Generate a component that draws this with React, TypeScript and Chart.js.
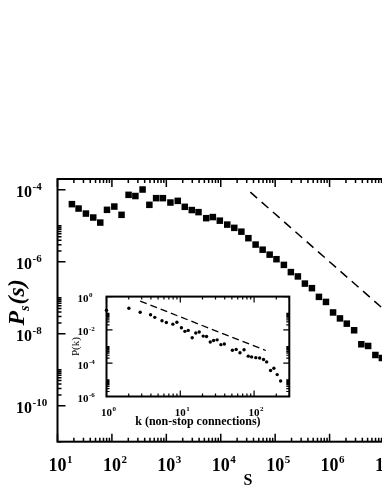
import React, { useEffect, useRef } from 'react';
import { Chart, registerables } from 'chart.js';

Chart.register(...registerables);

const FONT = "'Liberation Serif', 'Times New Roman', serif";

// ---- main plot: P_s(s) versus s ----
const sizeS = [18.4, 24.4, 33.3, 45.4, 61.1, 81.2, 110.7, 150.3, 202.4, 270, 366, 488, 649, 865, 1189, 1621, 2183, 2938, 3902, 5408, 7161, 9616, 13180, 17740, 23950, 32220, 43740, 58880, 79250, 105700, 144600, 194500, 261600, 352100, 474000, 637900, 858500, 1159000, 1552000, 2073000, 2827000, 3835000, 5117000, 6948000, 9141000];
const probPs = [4.0e-5, 3.02e-5, 2.19e-5, 1.7e-5, 1.23e-5, 2.78e-5, 3.43e-5, 2.02e-5, 7.26e-5, 6.73e-5, 1.02e-4, 3.83e-5, 5.87e-5, 5.87e-5, 4.44e-5, 4.94e-5, 3.37e-5, 2.74e-5, 2.4e-5, 1.63e-5, 1.75e-5, 1.39e-5, 1.08e-5, 8.77e-6, 6.87e-6, 4.53e-6, 3.01e-6, 2.17e-6, 1.58e-6, 1.18e-6, 8.2e-7, 5.17e-7, 3.92e-7, 2.48e-7, 1.85e-7, 1.06e-7, 7.67e-8, 3.91e-8, 2.67e-8, 1.91e-8, 1.25e-8, 5.1e-9, 4.58e-9, 2.57e-9, 2.12e-9];
const mainFitS = [3.5e4, 1e7];
const mainFitP = [8.6e-5, 4.7e-8];
const mainXRange = [10, 1e8];
const mainYRange = [1e-11, 2e-4];
const mainXLabels = [1e1, 1e2, 1e3, 1e4, 1e5, 1e6, 1e7];
const mainYLabels = [1e-10, 1e-8, 1e-6, 1e-4];

// ---- inset: P(k) versus k ----
const degreeK = [1, 2.01, 2.86, 3.95, 4.51, 5.65, 6.47, 7.93, 8.99, 10.35, 11.55, 12.81, 14.49, 16.21, 18.04, 20.45, 22.69, 25.47, 28.25, 31.53, 35.5, 39.52, 50.8, 57.2, 64.4, 73.1, 83.4, 92.5, 105.5, 118.9, 134.3, 148, 167.2, 185.4, 205.6, 228.9];
const probPk = [0.151, 0.199, 0.116, 0.0809, 0.0566, 0.0352, 0.0281, 0.0221, 0.0288, 0.0136, 8.2e-3, 9.36e-3, 3.38e-3, 6.55e-3, 7.48e-3, 4.23e-3, 4.01e-3, 1.86e-3, 2.33e-3, 2.52e-3, 1.3e-3, 1.43e-3, 6.05e-4, 6.72e-4, 4.23e-4, 6.46e-4, 2.66e-4, 2.39e-4, 2.15e-4, 2.04e-4, 1.67e-4, 1.2e-4, 3.65e-5, 5.02e-5, 2.07e-5, 8.53e-6];
const insetFitK = [2.86, 144];
const insetFitP = [0.537, 5.8e-4];
const insetXRange = [1, 300];
const insetYRange = [1e-6, 1];
const insetXLabels = [1, 10, 100];
const insetYLabels = [1e-6, 1e-4, 1e-2, 1];

// tick positions for a log axis with every decade labelled
function decadeMinors(min: number, max: number) {
  const out: number[] = [];
  for (let e = Math.floor(Math.log10(min)); e <= Math.ceil(Math.log10(max)); e++) {
    for (let k = 2; k <= 9; k++) {
      const v = k * Math.pow(10, e);
      if (v >= min && v <= max) out.push(v);
    }
  }
  return out;
}
// grace-like minor ticks for a log axis labelled every second decade
function pairMinors(min: number, max: number) {
  const out: number[] = [];
  for (let e = Math.floor(Math.log10(min)) - 1; e <= Math.ceil(Math.log10(max)); e++) {
    if (e % 2 !== 0) continue;
    for (let k = 2; k <= 10; k++) {
      const v = k * Math.pow(10, e);
      if (v >= min && v <= max) out.push(v);
    }
  }
  return out;
}
function decades(min: number, max: number, step: number) {
  const out: number[] = [];
  for (let e = Math.ceil(Math.log10(min)); e <= Math.floor(Math.log10(max)); e++) {
    if (e % step === 0) out.push(Math.pow(10, e));
  }
  return out;
}

type AxesOpts = {
  majorLen: number; minorLen: number; frame: number; tickWidth: number;
  xMajors: number[]; xMinors: number[]; yMajors: number[]; yMinors: number[];
  expSize: number; expRaise: number;
};

function axesPlugin(o: AxesOpts) {
  return {
    id: 'graceAxes',
    afterDraw(chart: any) {
      const { ctx, chartArea: a } = chart;
      const xs = chart.scales.x;
      const ys = chart.scales.y;
      ctx.save();
      ctx.strokeStyle = '#000';
      ctx.lineWidth = o.tickWidth;
      ctx.beginPath();
      const vx = (v: number, len: number) => {
        const p = xs.getPixelForValue(v);
        ctx.moveTo(p, a.bottom); ctx.lineTo(p, a.bottom - len);
        ctx.moveTo(p, a.top); ctx.lineTo(p, a.top + len);
      };
      const vy = (v: number, len: number) => {
        const p = ys.getPixelForValue(v);
        ctx.moveTo(a.left, p); ctx.lineTo(a.left + len, p);
        ctx.moveTo(a.right, p); ctx.lineTo(a.right - len, p);
      };
      o.xMajors.forEach((v) => vx(v, o.majorLen));
      o.xMinors.forEach((v) => vx(v, o.minorLen));
      o.yMajors.forEach((v) => vy(v, o.majorLen));
      o.yMinors.forEach((v) => vy(v, o.minorLen));
      ctx.stroke();
      ctx.lineWidth = o.frame;
      ctx.strokeRect(a.left, a.top, a.right - a.left, a.bottom - a.top);

      // superscript exponents after the "10" tick labels
      ctx.fillStyle = '#000';
      ctx.textBaseline = 'middle';
      ctx.textAlign = 'left';
      for (const sc of [xs, ys]) {
        const items = sc.getLabelItems();
        items.forEach((it: any, i: number) => {
          const tick = sc.ticks[i];
          if (!tick) return;
          const e = Math.round(Math.log10(tick.value));
          ctx.font = it.font.string;
          const w = ctx.measureText(String(it.label)).width;
          const [tx, ty] = it.options.translation;
          const al = it.options.textAlign;
          const endX = al === 'center' ? tx + w / 2 : al === 'right' ? tx : tx + w;
          const cy = ty + it.textOffset;
          ctx.font = `bold ${o.expSize}px ${FONT}`;
          ctx.fillText(e < 0 ? '-' + -e : String(e), endX + 0.5, cy - o.expRaise);
        });
      }
      ctx.restore();
    },
  };
}

const psTitlePlugin = {
  id: 'psTitle',
  afterDraw(chart: any) {
    const { ctx, chartArea: a } = chart;
    const big = `italic bold 24px ${FONT}`;
    const small = `italic bold 14px ${FONT}`;
    ctx.save();
    ctx.fillStyle = '#000';
    ctx.textBaseline = 'alphabetic';
    ctx.textAlign = 'left';
    ctx.font = big;
    const w1 = ctx.measureText('P').width;
    const w3 = ctx.measureText('(s)').width;
    ctx.font = small;
    const w2 = ctx.measureText('s').width;
    const total = w1 + w2 + w3 + 1;
    ctx.translate(23.5, (a.top + a.bottom) / 2 - 8);
    ctx.rotate(-Math.PI / 2);
    let x = -total / 2;
    ctx.font = big;
    ctx.fillText('P', x, 0);
    x += w1;
    ctx.font = small;
    ctx.fillText('s', x, 5);
    x += w2 + 1;
    ctx.font = big;
    ctx.fillText('(s)', x, 0);
    ctx.restore();
  },
};

function logAxis(range: number[], labels: number[], fit: (s: any) => void, ticks: any, title: any) {
  return {
    type: 'logarithmic',
    min: range[0],
    max: range[1],
    afterBuildTicks: (s: any) => {
      s.ticks = labels.map((v) => ({ value: v, major: true }));
    },
    afterFit: fit,
    grid: { display: false },
    border: { display: false },
    ticks: { autoSkip: false, maxRotation: 0, color: '#000', callback: () => '10', ...ticks },
    title,
  };
}

export default function App() {
  const mainRef = useRef<HTMLCanvasElement>(null);
  const insetRef = useRef<HTMLCanvasElement>(null);

  useEffect(() => {
    const main = new Chart(mainRef.current as HTMLCanvasElement, {
      type: 'scatter',
      data: {
        datasets: [
          {
            data: sizeS.map((s, i) => ({ x: s, y: probPs[i] })),
            pointStyle: 'rect',
            pointRadius: 4.6,
            pointBackgroundColor: '#000',
            pointBorderWidth: 0,
            showLine: false,
            clip: false,
          } as any,
          {
            data: mainFitS.map((s, i) => ({ x: s, y: mainFitP[i] })),
            showLine: true,
            borderColor: '#000',
            borderWidth: 1.5,
            borderDash: [9, 6],
            pointRadius: 0,
          } as any,
        ],
      },
      options: {
        responsive: false,
        animation: false,
        events: [],
        layout: { padding: { top: 179, right: 21.6, bottom: 0, left: 0 } },
        plugins: { legend: { display: false }, tooltip: { enabled: false } },
        scales: {
          x: logAxis(mainXRange, mainXLabels, (s: any) => { s.height = 52.3; },
            { padding: 5.5, font: { family: FONT, size: 18, weight: 'bold' } },
            { display: true, text: 'S', color: '#000', font: { family: FONT, size: 16, weight: 'bold' }, padding: { top: 0, bottom: 3.5 } }),
          y: logAxis(mainYRange, mainYLabels, (s: any) => { s.width = 57.5; },
            { padding: 17.5, labelOffset: 3, font: { family: FONT, size: 16, weight: 'bold' } },
            { display: false }),
        } as any,
      },
      plugins: [
        axesPlugin({
          majorLen: 8, minorLen: 4, frame: 2, tickWidth: 1.5,
          xMajors: decades(mainXRange[0], mainXRange[1], 1),
          xMinors: decadeMinors(mainXRange[0], mainXRange[1]),
          yMajors: decades(mainYRange[0], mainYRange[1], 2),
          yMinors: pairMinors(mainYRange[0], mainYRange[1]),
          expSize: 11, expRaise: 5.5,
        }),
        psTitlePlugin,
      ],
    });

    const inset = new Chart(insetRef.current as HTMLCanvasElement, {
      type: 'scatter',
      data: {
        datasets: [
          {
            data: degreeK.map((k, i) => ({ x: k, y: probPk[i] })),
            pointStyle: 'circle',
            pointRadius: 1.7,
            pointBackgroundColor: '#000',
            pointBorderWidth: 0,
            showLine: false,
            clip: false,
          } as any,
          {
            data: insetFitK.map((k, i) => ({ x: k, y: insetFitP[i] })),
            showLine: true,
            borderColor: '#000',
            borderWidth: 1.3,
            borderDash: [7, 4],
            pointRadius: 0,
          } as any,
        ],
      },
      options: {
        responsive: false,
        animation: false,
        events: [],
        layout: { padding: { top: 12, right: 10.7, bottom: 0, left: 0 } },
        plugins: { legend: { display: false }, tooltip: { enabled: false } },
        scales: {
          x: logAxis(insetXRange, insetXLabels, (s: any) => { s.height = 33.5; },
            { padding: 1.9, font: { family: FONT, size: 11, weight: 'bold' } },
            { display: true, text: 'k (non-stop connections)', color: '#000', font: { family: FONT, size: 12, weight: 'bold' }, padding: { top: 0, bottom: 0.8 } }),
          y: logAxis(insetYRange, insetYLabels, (s: any) => { s.width = 46.5; },
            { padding: 10, labelOffset: 2.5, font: { family: FONT, size: 11, weight: 'bold' } },
            { display: true, text: 'P(k)', color: '#000', font: { family: FONT, size: 11, weight: 'normal' }, padding: { top: 9.4, bottom: 0 } }),
        } as any,
      },
      plugins: [
        axesPlugin({
          majorLen: 6, minorLen: 3, frame: 2, tickWidth: 1.2,
          xMajors: decades(insetXRange[0], insetXRange[1], 1),
          xMinors: decadeMinors(insetXRange[0], insetXRange[1]),
          yMajors: decades(insetYRange[0], insetYRange[1], 2),
          yMinors: pairMinors(insetYRange[0], insetYRange[1]),
          expSize: 7, expRaise: 3.5,
        }),
      ],
    });

    return () => {
      main.destroy();
      inset.destroy();
    };
  }, []);

  return (
    <div style={{ position: 'fixed', left: 0, top: 0, width: 382, height: 494, overflow: 'hidden', background: '#fff' }}>
      <canvas ref={mainRef} width={460} height={494} style={{ position: 'absolute', left: 0, top: 0, width: 460, height: 494 }} />
      <canvas ref={insetRef} width={240} height={150} style={{ position: 'absolute', left: 60, top: 280, width: 240, height: 150 }} />
    </div>
  );
}
